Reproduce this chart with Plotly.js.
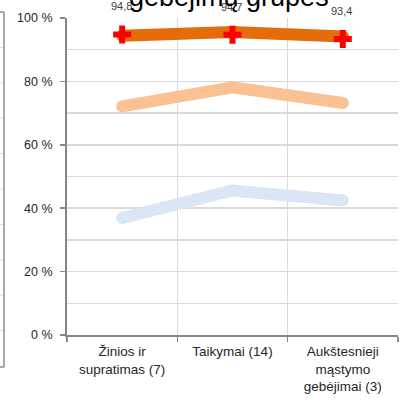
<!DOCTYPE html>
<html>
<head>
<meta charset="utf-8">
<script src="https://cdn.plot.ly/plotly-3.0.1.min.js"></script>
<style>
html,body{margin:0;padding:0;background:#fff;}
#chart{width:404px;height:405px;}
</style>
</head>
<body>
<div id="chart"></div>
<script>
// Data
var categories = ["Žinios ir<br>supratimas (7)", "Taikymai (14)", "Aukštesnieji<br>mąstymo<br>gebėjimai (3)"];
var seriesLow = [36.9, 45.6, 42.4];
var seriesMid = [72.1, 78.1, 73.2];
var seriesHigh = [94.4, 95.6, 94.2];
var seriesPoint = [94.8, 94.7, 93.4];
var pointLabels = ["94,8", "94,7", "93,4"];
var yTickVals = [0, 20, 40, 60, 80, 100];
var yTickText = ["0 %", "20 %", "40 %", "60 %", "80 %", "100 %"];
var titleText = "gebėjimų grupes";

var FONT = "Liberation Sans, Arial, sans-serif";

function lineTrace(vals, color){
  return {
    x: categories, y: vals, type: "scatter", mode: "lines+markers",
    line: {color: color, width: 12},
    marker: {color: color, size: 12, symbol: "circle"},
    hoverinfo: "skip", showlegend: false, cliponaxis: false
  };
}

var traces = [
  lineTrace(seriesLow, "#DAE6F4"),
  lineTrace(seriesMid, "#FAC292"),
  lineTrace(seriesHigh, "#E46C0A"),
  {
    x: categories, y: seriesPoint, type: "scatter", mode: "markers",
    marker: {color: "#FF0000", size: 15, symbol: "cross", line: {width: 0}},
    hoverinfo: "skip", showlegend: false, cliponaxis: false
  }
];

var annotations = [];
for (var i = 0; i < categories.length; i++) {
  annotations.push({
    x: categories[i], y: seriesPoint[i], xref: "x", yref: "y",
    text: pointLabels[i], showarrow: false, yshift: 28, xshift: -1,
    font: {family: FONT, size: 11, color: "#404040"}
  });
}
annotations.push({
  x: 0.488, y: 1.0662, xref: "paper", yref: "paper", xanchor: "center", yanchor: "middle",
  text: titleText, showarrow: false,
  font: {family: FONT, size: 27, color: "#000000"}
});

// stray neighbouring-frame border at the left edge
var shapes = [];
function px2x(px){ return (px - 67) / 331; }
function py2y(py){ return (335 - py) / 317; }
shapes.push({type: "line", xref: "paper", yref: "paper", x0: px2x(4), x1: px2x(4), y0: py2y(12), y1: py2y(367), line: {color: "#8C8C8C", width: 1.5}, layer: "above"});
shapes.push({type: "line", xref: "paper", yref: "paper", x0: px2x(0), x1: px2x(4), y0: py2y(12), y1: py2y(12), line: {color: "#8C8C8C", width: 1.5}, layer: "above"});
shapes.push({type: "line", xref: "paper", yref: "paper", x0: px2x(0), x1: px2x(4), y0: py2y(367), y1: py2y(367), line: {color: "#8C8C8C", width: 1.5}, layer: "above"});
for (var k = 1; k < 10; k++) {
  var yy = 12 + k * 35.4;
  shapes.push({type: "line", xref: "paper", yref: "paper", x0: px2x(0), x1: px2x(3), y0: py2y(yy), y1: py2y(yy), line: {color: "#D9D9D9", width: 1}, layer: "above"});
}

var layout = {
  width: 404, height: 405,
  margin: {l: 67, r: 6, t: 18, b: 70, pad: 0},
  paper_bgcolor: "#ffffff", plot_bgcolor: "#ffffff",
  showlegend: false,
  font: {family: FONT, size: 12, color: "#262626"},
  xaxis: {
    type: "category", range: [-0.5, 2.5], tickson: "boundaries",
    showgrid: true, gridcolor: "#D9D9D9", gridwidth: 1.5,
    showline: true, linecolor: "#868686", linewidth: 2,
    ticks: "outside", ticklen: 5, tickcolor: "#868686", tickwidth: 1.5,
    ticklabelstandoff: 3,
    tickfont: {family: FONT, size: 13.5, color: "#262626"},
    zeroline: false, fixedrange: true
  },
  yaxis: {
    range: [0, 100], tickvals: yTickVals, ticktext: yTickText,
    showgrid: true, gridcolor: "#D9D9D9", gridwidth: 1.5,
    minor: {dtick: 10, tick0: 0, showgrid: true, gridcolor: "#D9D9D9", gridwidth: 1.5, ticks: ""},
    showline: true, linecolor: "#868686", linewidth: 2,
    ticks: "outside", ticklen: 5, tickcolor: "#868686", tickwidth: 1.5,
    ticklabelstandoff: 5,
    tickfont: {family: FONT, size: 12.5, color: "#262626"},
    zeroline: false, fixedrange: true
  },
  annotations: annotations,
  shapes: shapes
};

Plotly.newPlot("chart", traces, layout, {displayModeBar: false, staticPlot: true});
</script>
</body>
</html>
